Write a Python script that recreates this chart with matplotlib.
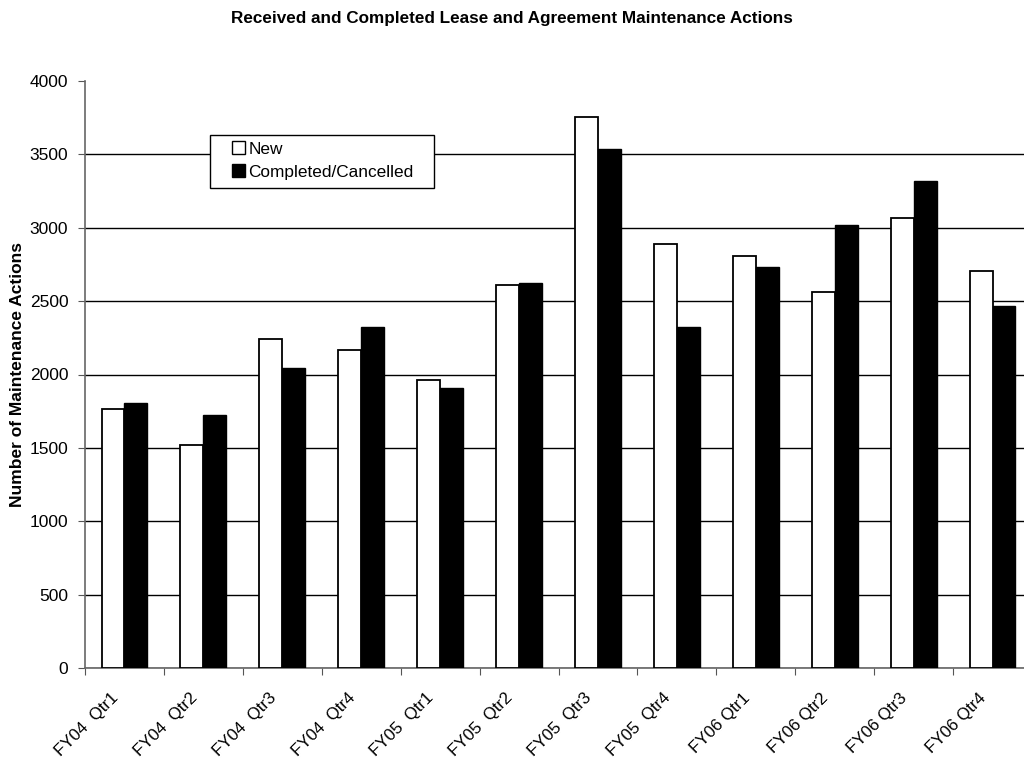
import numpy as np
import matplotlib
matplotlib.use('Agg')
from matplotlib import pyplot as plt
from matplotlib.patches import Patch, Rectangle
from matplotlib.legend_handler import HandlerPatch
from matplotlib.transforms import ScaledTranslation

plt.rcParams['font.family'] = ['Liberation Sans', 'DejaVu Sans']

quarters = ['FY04  Qtr1', 'FY04  Qtr2', 'FY04  Qtr3', 'FY04  Qtr4',
            'FY05  Qtr1', 'FY05  Qtr2', 'FY05  Qtr3', 'FY05  Qtr4',
            'FY06 Qtr1', 'FY06 Qtr2', 'FY06 Qtr3', 'FY06 Qtr4']
new_actions = [1767, 1522, 2239, 2167, 1965, 2612, 3752, 2891, 2805, 2560, 3066, 2703]
completed_actions = [1806, 1726, 2046, 2324, 1908, 2623, 3539, 2326, 2730, 3021, 3319, 2464]
y_ticks = [0, 500, 1000, 1500, 2000, 2500, 3000, 3500, 4000]

fig = plt.figure(figsize=(10.24, 7.59), dpi=100)
# plot area runs slightly past the right edge, as in the original
ax = fig.add_axes([85 / 1024, 91 / 759, 947 / 1024, 587 / 759])

x = np.arange(len(quarters))
w = 0.29
ax.bar(x - w / 2, new_actions, w, color='white', edgecolor='black', linewidth=1.3, zorder=3)
ax.bar(x + w / 2, completed_actions, w, color='black', edgecolor='black', linewidth=1.0, zorder=3)

ax.set_xlim(-0.5, len(quarters) - 0.5)
ax.set_ylim(0, 4000)
ax.set_yticks(y_ticks)
ax.set_yticklabels([str(v) for v in y_ticks], fontsize=12.5)
ax.yaxis.grid(True, color='black', linewidth=1.0, zorder=0)
ax.get_ygridlines()[-1].set_visible(False)

# tick marks at category boundaries, labels at centres
ax.set_xticks(np.arange(len(quarters) + 1) - 0.5)
ax.set_xticklabels([])
ax.set_xticks(x, minor=True)
ax.set_xticklabels(quarters, minor=True, rotation=45, ha='right', va='top',
                   rotation_mode='anchor', fontsize=12.2)
ax.tick_params(axis='x', which='minor', length=0, pad=16)
ax.tick_params(axis='x', which='major', length=5, color='#555555', direction='out')
ax.tick_params(axis='y', length=5, color='#555555', direction='out', pad=7)
shift = ScaledTranslation(-14 / 100, 0, fig.dpi_scale_trans)
for lbl in ax.get_xticklabels(minor=True):
    lbl.set_transform(lbl.get_transform() + shift)

for s in ['top', 'right']:
    ax.spines[s].set_visible(False)
for s in ['left', 'bottom']:
    ax.spines[s].set_color('#666666')
    ax.spines[s].set_linewidth(1.2)

ax.set_ylabel('Number of Maintenance Actions', fontsize=12.5, fontweight='bold')
ax.yaxis.set_label_coords(-60 / 947, 0.5)

fig.suptitle('Received and Completed Lease and Agreement Maintenance Actions',
             fontsize=12.3, fontweight='bold', x=512 / 1024, y=1 - 19 / 759, va='center')

# legend box drawn separately so the padding can match the original
frame = Rectangle((210 / 1024, 1 - 188 / 759), 224 / 1024, 53 / 759, transform=fig.transFigure,
                  facecolor='white', edgecolor='black', linewidth=1.0, zorder=4, clip_on=False)
ax.add_patch(frame)


def square(legend, orig_handle, xdescent, ydescent, width, height, fontsize):
    return Rectangle((-xdescent, -ydescent), height, height)


handles = [Patch(facecolor='white', edgecolor='black', linewidth=1.0),
           Patch(facecolor='black', edgecolor='black')]
leg = ax.legend(handles, ['New', 'Completed/Cancelled'], loc='upper left',
                bbox_to_anchor=(232 / 1024, 1 - 141 / 759), bbox_transform=fig.transFigure,
                fontsize=12.4, frameon=False,
                handler_map={Patch: HandlerPatch(patch_func=square)},
                handlelength=0.8, handleheight=0.8, handletextpad=0.15,
                borderpad=0, labelspacing=0.45, borderaxespad=0)
leg.set_zorder(5)

plt.savefig('out.png', dpi=100)
